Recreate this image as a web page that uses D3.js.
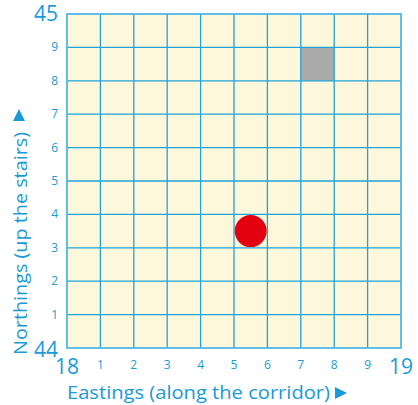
<!DOCTYPE html>
<html>
<head>
<meta charset="utf-8">
<script src="https://cdn.jsdelivr.net/npm/d3@7"></script>
<style>
  body { margin: 0; background: #fff; }
  text { font-family: "Open Sans", sans-serif; fill: #1a9ad6; }
</style>
</head>
<body>
<div id="chart"></div>
<script>
// grid ticks (inside the square, 0..10 in local units)
const tickValues = [1, 2, 3, 4, 5, 6, 7, 8, 9];
// corner labels of the map square
const eastRange = [18, 19];
const northRange = [44, 45];
// shaded cell (lower-left corner) and marker point
const shadedCells = [{ x: 7, y: 8 }];
const points = [{ x: 5.5, y: 3.5 }];

const width = 418, height = 405;
const margin = { top: 14, right: 17, bottom: 57, left: 67 };
const w = width - margin.left - margin.right;
const h = height - margin.top - margin.bottom;

const blue = "#1a9ad6";

const svg = d3.select("#chart").append("svg")
  .attr("width", width)
  .attr("height", height);

const g = svg.append("g")
  .attr("transform", `translate(${margin.left},${margin.top})`);

const x = d3.scaleLinear().domain([0, 10]).range([0, w]);
const y = d3.scaleLinear().domain([0, 10]).range([h, 0]);

// background
g.append("rect")
  .attr("width", w).attr("height", h)
  .attr("fill", "#fdf8db");

// shaded cell
g.selectAll(".cell")
  .data(shadedCells)
  .join("rect")
  .attr("class", "cell")
  .attr("x", d => x(d.x))
  .attr("y", d => y(d.y + 1))
  .attr("width", x(1) - x(0))
  .attr("height", y(0) - y(1))
  .attr("fill", "#ababab");

// grid lines
g.selectAll(".vline")
  .data(tickValues)
  .join("line")
  .attr("x1", d => x(d)).attr("x2", d => x(d))
  .attr("y1", 0).attr("y2", h)
  .attr("stroke", "#1ea3dd").attr("stroke-width", 1.3);

g.selectAll(".hline")
  .data(tickValues)
  .join("line")
  .attr("y1", d => y(d)).attr("y2", d => y(d))
  .attr("x1", 0).attr("x2", w)
  .attr("stroke", "#1ea3dd").attr("stroke-width", 1.3);

// outer border
g.append("rect")
  .attr("width", w).attr("height", h)
  .attr("fill", "none")
  .attr("stroke", "#4fb8e6").attr("stroke-width", 1.8);

// marker
g.selectAll(".pt")
  .data(points)
  .join("circle")
  .attr("cx", d => x(d.x))
  .attr("cy", d => y(d.y))
  .attr("r", 16)
  .attr("fill", "#e3000f");

// tick labels
g.selectAll(".xt")
  .data(tickValues)
  .join("text")
  .attr("x", d => x(d))
  .attr("y", h + 21)
  .attr("text-anchor", "middle")
  .style("font-size", "12px")
  .text(d => d);

g.selectAll(".yt")
  .data(tickValues)
  .join("text")
  .attr("x", -9)
  .attr("y", d => y(d) + 4)
  .attr("text-anchor", "end")
  .style("font-size", "12px")
  .text(d => d);

// corner labels
g.append("text")
  .attr("x", -9).attr("y", 7)
  .attr("text-anchor", "end")
  .style("font-size", "21px")
  .text(northRange[1]);

g.append("text")
  .attr("x", -9).attr("y", h + 9)
  .attr("text-anchor", "end")
  .style("font-size", "21px")
  .text(northRange[0]);

g.append("text")
  .attr("x", 0).attr("y", h + 26)
  .attr("text-anchor", "middle")
  .style("font-size", "21px")
  .text(eastRange[0]);

g.append("text")
  .attr("x", w).attr("y", h + 26)
  .attr("text-anchor", "middle")
  .style("font-size", "21px")
  .text(eastRange[1]);

// axis titles
g.append("text")
  .attr("x", 0)
  .attr("y", h + 51)
  .attr("textLength", 263)
  .attr("lengthAdjust", "spacingAndGlyphs")
  .style("font-size", "18px")
  .text("Eastings (along the corridor)");

// arrow heads
g.append("path")
  .attr("d", `M${268},${h + 39} L${280},${h + 45} L${268},${h + 51} Z`)
  .attr("fill", blue);

g.append("text")
  .attr("transform", "rotate(-90)")
  .attr("x", -341)
  .attr("y", -40)
  .attr("textLength", 223)
  .attr("lengthAdjust", "spacingAndGlyphs")
  .style("font-size", "18px")
  .text("Northings (up the stairs)");

g.append("path")
  .attr("d", `M${-54},${107} L${-48},${95} L${-42},${107} Z`)
  .attr("fill", blue);
</script>
</body>
</html>
